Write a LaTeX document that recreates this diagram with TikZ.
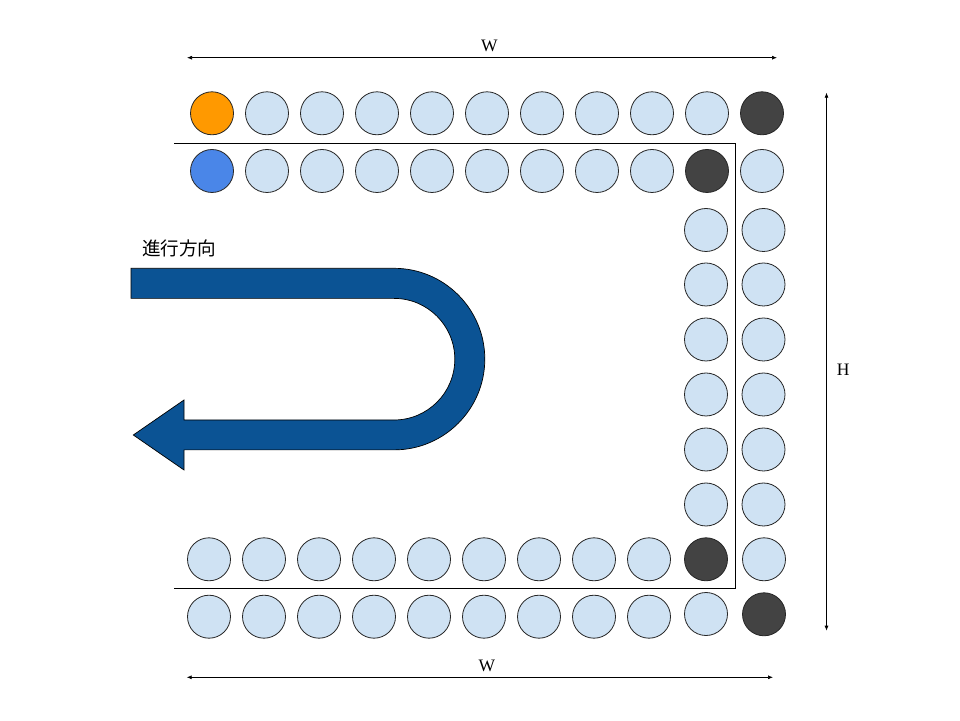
\documentclass[tikz,border=0pt]{standalone}
\usepackage{fontspec}
\setmainfont{Liberation Serif}
\newfontfamily\cjk{Noto Sans CJK JP}
\usetikzlibrary{arrows.meta}
\definecolor{lblue}{HTML}{CFE2F3}
\definecolor{dgray}{HTML}{434343}
\definecolor{orng}{HTML}{FF9900}
\definecolor{mblue}{HTML}{4A86E8}
\definecolor{ublue}{HTML}{0B5394}
\tikzset{
  ball/.style={circle,draw=black!85,line width=0.8pt,minimum size=43pt,inner sep=0pt,fill=lblue},
  darkball/.style={ball,fill=dgray},
  dimline/.style={line width=0.7pt,{Latex[length=5pt,width=4pt]}-{Latex[length=5pt,width=4pt]}},
  border/.style={line width=0.9pt},
  lbl/.style={font=\fontsize{17.5}{17.5}\selectfont,inner sep=0pt}
}
\begin{document}
\begin{tikzpicture}[x=1pt,y=1pt]
\useasboundingbox (0,0) rectangle (960,720);
% top row
\foreach \i in {0,...,10} {
  \pgfmathsetmacro{\xx}{212+55*\i}
  \ifnum\i=0 \node[ball,fill=orng] (a\i) at (\xx,606.7) {};
  \else\ifnum\i=10 \node[darkball] (a\i) at (\xx,606.7) {};
  \else \node[ball] (a\i) at (\xx,606.7) {};\fi\fi
}
% second row
\foreach \i in {0,...,10} {
  \pgfmathsetmacro{\xx}{212+55*\i}
  \ifnum\i=0 \node[ball,fill=mblue] (b\i) at (\xx,549) {};
  \else\ifnum\i=9 \node[darkball] (b\i) at (\xx,549) {};
  \else \node[ball] (b\i) at (\xx,549) {};\fi\fi
}
% right columns
\foreach \yy [count=\k] in {490,435.5,380.5,325.5,270.5,215.5} {
  \node[ball] (c\k) at (706,\yy) {};
  \node[ball] (d\k) at (763.5,\yy) {};
}
% bottom rows
\foreach \i in {0,...,8} {
  \pgfmathsetmacro{\xx}{209+55*\i}
  \node[ball] (e\i) at (\xx,160.7) {};
  \node[ball] (f\i) at (\xx,103.3) {};
}
\node[darkball] (e9) at (706,160.7) {};
\node[ball] (e10) at (764,160.7) {};
\node[ball] (f9) at (706,106) {};
\node[darkball] (f10) at (764,105.7) {};
% boundary lines
\coordinate (l1) at (174,576.7);
\coordinate (l2) at (735.5,576.7);
\coordinate (l3) at (735.5,131.7);
\coordinate (l4) at (174,131.7);
\draw[border] (l1) -- (l2) -- (l3) -- (l4);
% dimension lines
\coordinate (wt1) at (187,662.3);
\coordinate (wt2) at (777,662.3);
\draw[dimline] (wt1) -- (wt2);
\node[lbl] (wtop) at (489.3,674.3) {W};
\coordinate (wb1) at (186.7,42.7);
\coordinate (wb2) at (773,42.7);
\draw[dimline] (wb1) -- (wb2);
\node[lbl] (wbot) at (487,54) {W};
\coordinate (h1) at (826.5,627.3);
\coordinate (h2) at (826.5,89.3);
\draw[dimline] (h1) -- (h2);
\node[lbl] (hlab) at (843.3,350) {H};
% U-turn arrow
\draw[fill=ublue,line width=0.7pt,line join=miter]
  (131,451.7) -- (394,451.7) arc[start angle=90,end angle=-90,radius=90.8]
  -- (184,270.1) -- (184,250) -- (133.3,285) -- (184,320) -- (184,300)
  -- (394,300) arc[start angle=-90,end angle=90,radius=60.8]
  -- (131,421.6) -- cycle;
\node[font=\cjk\fontsize{18.6}{18.6}\selectfont,inner sep=0pt] (dir) at (179.3,471.7) {進行方向};
\end{tikzpicture}
\end{document}
